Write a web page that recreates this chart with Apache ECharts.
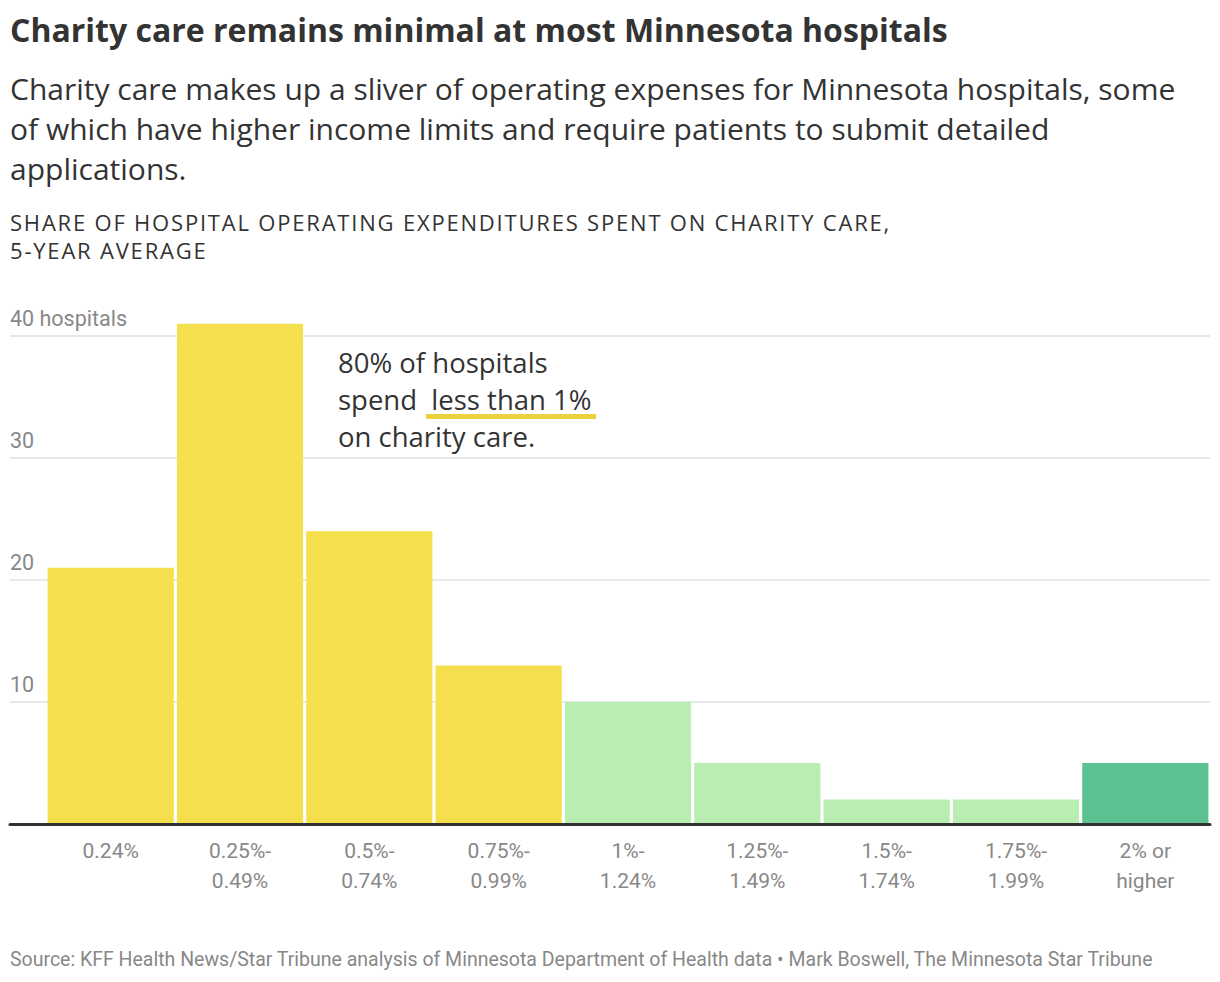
<!DOCTYPE html>
<html>
<head>
<meta charset="utf-8">
<script src="https://cdn.jsdelivr.net/npm/echarts@6/dist/echarts.min.js"></script>
<style>
  html, body { margin: 0; padding: 0; background: #fff; }
  #chart { width: 1220px; height: 982px; }
</style>
</head>
<body>
<div id="chart"></div>
<script>
// ── data ──
const categories = ['0.24%', '0.25%-\n0.49%', '0.5%-\n0.74%', '0.75%-\n0.99%', '1%-\n1.24%',
                    '1.25%-\n1.49%', '1.5%-\n1.74%', '1.75%-\n1.99%', '2% or\nhigher'];
const hospitals = [21, 41, 24, 13, 10, 5, 2, 2, 5];
const yTicks = [0, 10, 20, 30, 40];

// ── style ──
const FONT = 'Roboto, "Noto Sans", sans-serif';
const HEAD_FONT = '"Open Sans", Roboto, sans-serif';
const YELLOW = '#f5df4d', LIGHT_GREEN = '#b8eeb2', DARK_GREEN = '#5dc291';
function barColor(i) { return i < 4 ? YELLOW : (i < 8 ? LIGHT_GREEN : DARK_GREEN); }

const chart = echarts.init(document.getElementById('chart'), null, { renderer: 'svg' });

const gridTop = 336, gridH = 488;

chart.setOption({
  animation: false,
  textStyle: { fontFamily: FONT },
  title: [
    { text: 'Charity care remains minimal at most Minnesota hospitals', left: 10, top: 13, padding: 0,
      textStyle: { fontSize: 32, fontWeight: 'bold', color: '#333', fontFamily: HEAD_FONT } },
    { text: 'Charity care makes up a sliver of operating expenses for Minnesota hospitals, some\nof which have higher income limits and require patients to submit detailed\napplications.',
      left: 10, top: 68, padding: 0,
      textStyle: { fontSize: 30, fontWeight: 'normal', color: '#333', lineHeight: 40, fontFamily: HEAD_FONT } },
    { text: 'SHARE OF HOSPITAL OPERATING EXPENDITURES SPENT ON CHARITY CARE,\n5-YEAR AVERAGE',
      left: 10, top: 208, padding: 0,
      textStyle: { fontSize: 22, fontWeight: 'normal', color: '#333', lineHeight: 28, fontFamily: HEAD_FONT } },
    { text: 'Source: KFF Health News/Star Tribune analysis of Minnesota Department of Health data \u2022 Mark Boswell, The Minnesota Star Tribune',
      left: 10, top: 949, padding: 0,
      textStyle: { fontSize: 19.5, fontWeight: 'normal', color: '#888', fontFamily: FONT } }
  ],
  grid: [
    { left: 10, right: 10, top: gridTop, height: gridH },
    { left: 46, right: 10, top: gridTop, height: gridH }
  ],
  xAxis: [
    { gridIndex: 0, type: 'category', data: categories,
      axisLine: { show: true, lineStyle: { color: '#333', width: 3 } },
      axisTick: { show: false }, axisLabel: { show: false }, z: 10 },
    { gridIndex: 1, type: 'category', data: categories,
      axisLine: { show: false }, axisTick: { show: false },
      axisLabel: { color: '#888', fontSize: 21, lineHeight: 30, margin: 12, fontFamily: FONT } }
  ],
  yAxis: [
    { gridIndex: 0, type: 'value', min: yTicks[0], max: yTicks[yTicks.length - 1], interval: 10,
      axisLine: { show: false }, axisTick: { show: false },
      splitLine: { lineStyle: { color: '#e8e8e8', width: 2 } },
      axisLabel: {
        inside: true, margin: 0, verticalAlign: 'bottom', padding: [0, 0, 7, 0],
        color: '#888', fontSize: 21.5, fontFamily: FONT,
        formatter: v => v === 0 ? '' : (v === 40 ? v + ' hospitals' : String(v))
      } },
    { gridIndex: 1, type: 'value', min: yTicks[0], max: yTicks[yTicks.length - 1], show: false }
  ],
  series: [
    { type: 'bar', xAxisIndex: 1, yAxisIndex: 1, clip: false,
      barCategoryGap: '2.4%',
      data: hospitals.map((v, i) => ({ value: v, itemStyle: { color: barColor(i) } })) }
  ],
  graphic: [
    { type: 'text', left: 338, top: 344, z: 20,
      style: { text: '80% of hospitals\nspend  less than 1%\non charity care.',
               font: '27.5px ' + HEAD_FONT, fill: '#333', lineHeight: 37 } },
    { type: 'rect', left: 426, top: 414, z: 19,
      shape: { width: 170, height: 5 }, style: { fill: '#ecd23c' } }
  ]
});

// tracked caps for the axis title, as in the original
document.querySelectorAll('#chart text').forEach(t => {
  const s = t.textContent;
  if (s.startsWith('SHARE OF') || s.startsWith('5-YEAR')) t.style.letterSpacing = '1.8px';
});
</script>
</body>
</html>
